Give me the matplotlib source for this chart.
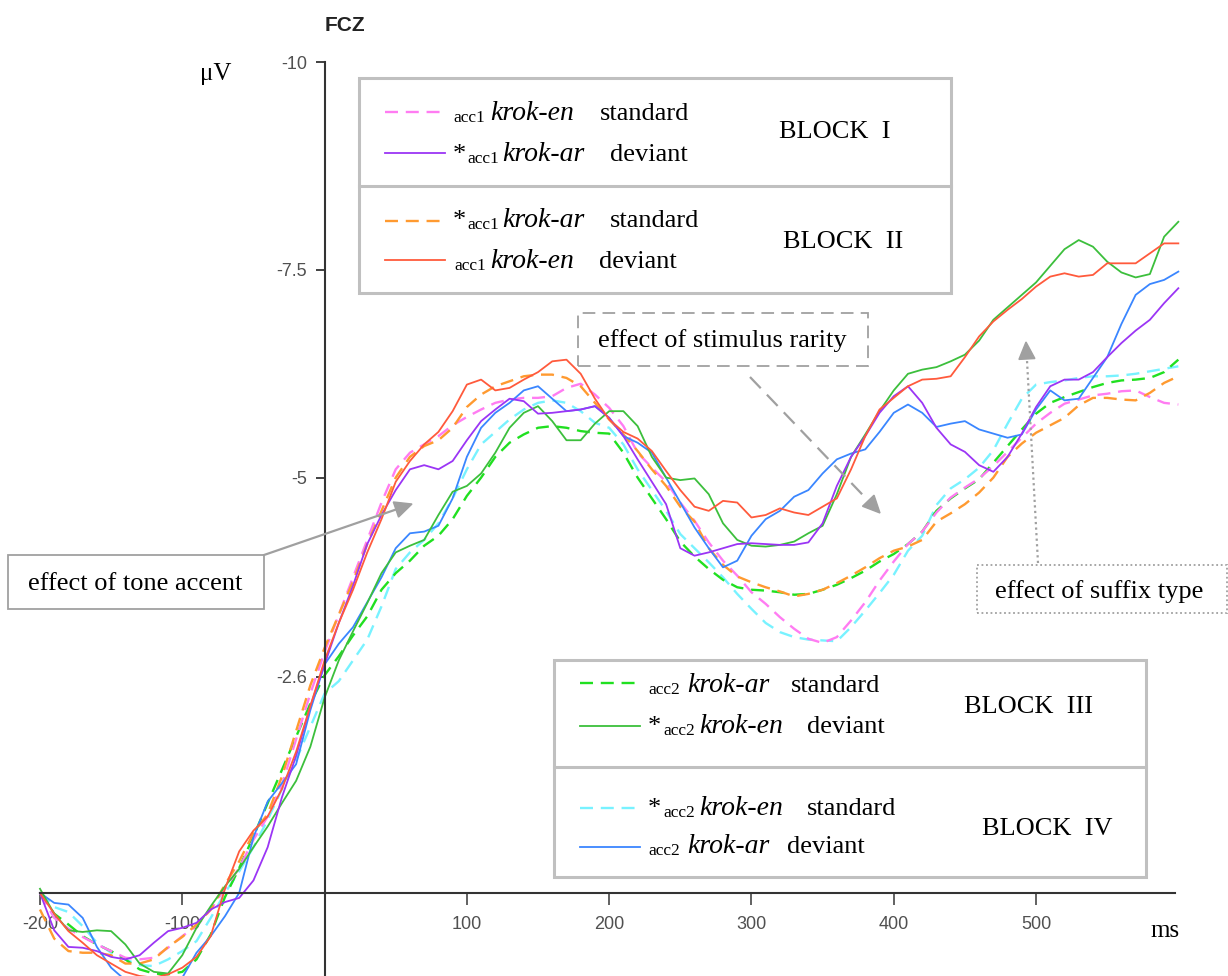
import numpy as np
import matplotlib
matplotlib.use('Agg')
import matplotlib.pyplot as plt
from matplotlib.patches import Rectangle, Polygon
from matplotlib.lines import Line2D

plt.rcParams['font.family'] = ['Liberation Sans', 'DejaVu Sans']
plt.rcParams['lines.solid_joinstyle'] = 'round'
plt.rcParams['lines.dash_joinstyle'] = 'round'

W, H = 1228, 976

# sampling grid, ms
ms = np.arange(-200, 601, 10)

# amplitudes in microvolt (negative plotted up)
block1_std = [0, 0.3, 0.43, 0.53, 0.62, 0.7, 0.78, 0.8, 0.78, 0.66, 0.52, 0.4, 0.2, -0.05, -0.3, -0.64, -0.92, -1.3, -1.85, -2.4, -2.9,
              -3.35, -3.8, -4.25, -4.7, -5.1, -5.3, -5.4, -5.5, -5.63, -5.73, -5.82, -5.9, -5.94, -5.96, -5.96, -5.98, -6.08, -6.13, -6.0, -5.84,
              -5.62, -5.3, -5.12, -4.95, -4.7, -4.48, -4.22, -4.0, -3.82, -3.62, -3.48, -3.32, -3.18, -3.06, -3.01, -3.08, -3.28, -3.5, -3.76, -3.99,
              -4.2, -4.35, -4.58, -4.76, -4.88, -4.99, -5.14, -5.31, -5.48, -5.65, -5.78, -5.89, -5.94, -5.99, -6.01, -6.04, -6.05, -5.97, -5.9, -5.88]
block1_dev = [0, 0.45, 0.65, 0.66, 0.7, 0.77, 0.8, 0.75, 0.6, 0.46, 0.42, 0.36, 0.2, 0.11, 0.06, -0.15, -0.55, -1.15, -1.65, -2.25, -2.75,
              -3.25, -3.7, -4.2, -4.55, -4.85, -5.1, -5.15, -5.1, -5.2, -5.45, -5.68, -5.82, -5.95, -5.92, -5.77, -5.78, -5.8, -5.82, -5.86, -5.72,
              -5.5, -5.22, -4.95, -4.68, -4.15, -4.06, -4.1, -4.15, -4.2, -4.21, -4.2, -4.19, -4.19, -4.22, -4.45, -4.9, -5.25, -5.5, -5.78, -5.98,
              -6.1, -5.9, -5.6, -5.4, -5.31, -5.15, -5.07, -5.25, -5.53, -5.85, -6.1, -6.18, -6.18, -6.27, -6.45, -6.62, -6.77, -6.9, -7.1, -7.28]
block2_std = [0.2, 0.55, 0.7, 0.72, 0.72, 0.75, 0.85, 0.85, 0.8, 0.65, 0.53, 0.38, 0.2, -0.1, -0.38, -0.72, -0.95, -1.4, -1.95, -2.5, -2.95,
              -3.35, -3.75, -4.2, -4.6, -5.0, -5.25, -5.38, -5.45, -5.6, -5.85, -6.0, -6.1, -6.16, -6.22, -6.24, -6.24, -6.2, -6.1, -5.9, -5.7,
              -5.52, -5.32, -5.1, -4.9, -4.65, -4.47, -4.15, -3.95, -3.81, -3.74, -3.68, -3.63, -3.57, -3.6, -3.65, -3.73, -3.82, -3.92, -4.03, -4.12,
              -4.17, -4.25, -4.47, -4.57, -4.68, -4.82, -5.0, -5.25, -5.41, -5.54, -5.63, -5.72, -5.87, -5.96, -5.96, -5.94, -5.93, -6.02, -6.14, -6.22]
block2_dev = [0, 0.25, 0.46, 0.6, 0.75, 0.85, 0.95, 1.0, 1.02, 0.98, 0.9, 0.77, 0.52, -0.05, -0.5, -0.75, -0.92, -1.25, -1.7, -2.25, -2.8,
              -3.25, -3.65, -4.1, -4.5, -4.95, -5.2, -5.4, -5.55, -5.8, -6.12, -6.18, -6.05, -6.08, -6.18, -6.27, -6.4, -6.42, -6.25, -5.95, -5.7,
              -5.55, -5.47, -5.32, -5.08, -4.85, -4.65, -4.6, -4.72, -4.7, -4.52, -4.55, -4.63, -4.58, -4.55, -4.65, -4.75, -5.1, -5.5, -5.82, -5.96,
              -6.1, -6.18, -6.19, -6.22, -6.45, -6.7, -6.88, -7.02, -7.15, -7.3, -7.42, -7.46, -7.42, -7.44, -7.58, -7.58, -7.58, -7.7, -7.82, -7.82]
block3_std = [0, 0.25, 0.38, 0.52, 0.62, 0.7, 0.8, 0.92, 0.97, 0.98, 0.95, 0.8, 0.5, 0.05, -0.3, -0.68, -1.08, -1.48, -1.88, -2.28, -2.62,
              -2.85, -3.1, -3.33, -3.65, -3.85, -4.0, -4.18, -4.3, -4.5, -4.78, -5.0, -5.25, -5.42, -5.52, -5.6, -5.62, -5.6, -5.56, -5.54, -5.53,
              -5.3, -5.0, -4.75, -4.5, -4.23, -4.05, -3.9, -3.77, -3.68, -3.65, -3.64, -3.62, -3.59, -3.6, -3.65, -3.71, -3.79, -3.88, -3.99, -4.08,
              -4.2, -4.35, -4.6, -4.75, -4.87, -4.98, -5.18, -5.38, -5.58, -5.77, -5.9, -5.97, -6.03, -6.09, -6.14, -6.17, -6.18, -6.2, -6.27, -6.42]
block3_dev = [-0.05, 0.25, 0.45, 0.47, 0.45, 0.46, 0.62, 0.85, 0.95, 0.97, 0.75, 0.42, 0.16, -0.08, -0.29, -0.55, -0.8, -1.08, -1.35, -1.76, -2.35,
              -2.8, -3.15, -3.49, -3.85, -4.1, -4.18, -4.25, -4.55, -4.83, -4.9, -5.05, -5.3, -5.6, -5.78, -5.86, -5.68, -5.45, -5.45, -5.65, -5.8,
              -5.8, -5.62, -5.25, -5.0, -4.97, -4.99, -4.8, -4.45, -4.25, -4.18, -4.17, -4.19, -4.23, -4.33, -4.42, -4.8, -5.25, -5.52, -5.8, -6.05,
              -6.25, -6.3, -6.33, -6.4, -6.48, -6.65, -6.9, -7.05, -7.2, -7.35, -7.55, -7.75, -7.86, -7.78, -7.6, -7.47, -7.41, -7.45, -7.9, -8.08]
block4_std = [0, 0.17, 0.23, 0.4, 0.6, 0.72, 0.8, 0.87, 0.88, 0.8, 0.7, 0.58, 0.3, 0.0, -0.26, -0.55, -0.88, -1.25, -1.6, -2.0, -2.4,
              -2.55, -2.8, -3.05, -3.45, -3.9, -4.1, -4.25, -4.45, -4.75, -5.1, -5.4, -5.55, -5.7, -5.82, -5.9, -5.93, -5.9, -5.8, -5.66, -5.6,
              -5.4, -5.1, -4.85, -4.6, -4.32, -4.15, -3.98, -3.8, -3.6, -3.42, -3.25, -3.14, -3.08, -3.05, -3.04, -3.03, -3.2, -3.4, -3.61, -3.83,
              -4.12, -4.3, -4.67, -4.87, -4.98, -5.12, -5.33, -5.65, -5.95, -6.12, -6.15, -6.17, -6.2, -6.22, -6.22, -6.23, -6.25, -6.28, -6.31, -6.34]
block4_dev = [0, 0.12, 0.14, 0.3, 0.65, 0.9, 1.05, 1.1, 1.1, 1.1, 1.02, 0.72, 0.52, 0.28, 0.0, -0.67, -1.1, -1.32, -1.55, -2.2, -2.75,
              -3.0, -3.2, -3.5, -3.8, -4.15, -4.33, -4.35, -4.42, -4.75, -5.25, -5.6, -5.78, -5.9, -6.05, -6.1, -5.95, -5.8, -5.82, -5.86, -5.72,
              -5.5, -5.42, -5.3, -5.0, -4.7, -4.4, -4.15, -3.92, -4.0, -4.3, -4.5, -4.6, -4.77, -4.85, -5.05, -5.22, -5.29, -5.34, -5.55, -5.78,
              -5.88, -5.78, -5.61, -5.65, -5.68, -5.58, -5.53, -5.48, -5.52, -5.82, -6.05, -5.93, -5.95, -6.2, -6.45, -6.85, -7.2, -7.33, -7.38, -7.48]

y_ticks = [-10, -7.5, -5, -2.6]
y_tick_labels = ['-10', '-7.5', '-5', '-2.6']
x_ticks = [-200, -100, 100, 200, 300, 400, 500]
x_tick_labels = ['-200', '-100', '100', '200', '300', '400', '500']

DASH = (5.5, 3.3)
styles = {
    'b1s': dict(color='#ff7cf2', lw=1.7, dashes=DASH),
    'b1d': dict(color='#9b35f5', lw=1.3),
    'b2s': dict(color='#ff9a30', lw=1.7, dashes=DASH),
    'b2d': dict(color='#ff5a3c', lw=1.3),
    'b3s': dict(color='#20e020', lw=1.7, dashes=DASH),
    'b3d': dict(color='#3cbf3c', lw=1.3),
    'b4s': dict(color='#78f2ff', lw=1.7, dashes=DASH),
    'b4d': dict(color='#3a86ff', lw=1.3),
}
series = {'b1s': block1_std, 'b1d': block1_dev, 'b2s': block2_std, 'b2d': block2_dev,
          'b3s': block3_std, 'b3d': block3_dev, 'b4s': block4_std, 'b4d': block4_dev}

fig = plt.figure(figsize=(W / 100, H / 100), dpi=100)
ax = fig.add_axes([0, 0, 1, 1])
ax.set_xlim(-228.1, 634.9)
ax.set_ylim(1.0, -10.75)
ax.patch.set_alpha(0)

for k in ['b4s', 'b3s', 'b1s', 'b2s', 'b4d', 'b3d', 'b1d', 'b2d']:
    ax.plot(ms, series[k], **styles[k])

# axes through zero
for s in ['top', 'right']:
    ax.spines[s].set_visible(False)
ax.spines['left'].set_position(('data', 0))
ax.spines['left'].set_bounds(-10, 1.0)
ax.spines['bottom'].set_position(('data', 0))
ax.spines['bottom'].set_bounds(-200, 598)
for s in ['left', 'bottom']:
    ax.spines[s].set_color('#333333')
    ax.spines[s].set_linewidth(1.5)
ax.set_xticks(x_ticks)
ax.set_xticklabels(x_tick_labels)
ax.set_yticks(y_ticks)
ax.set_yticklabels(y_tick_labels)
ax.tick_params(axis='x', direction='out', length=8.5, width=1.3, color='#555555',
               pad=8, labelsize=13, labelcolor='#505050')
ax.tick_params(axis='y', direction='out', length=6.5, width=1.3, color='#333333',
               pad=6, labelsize=13, labelcolor='#505050')


def fx(px):
    return px / W


def fy(py):
    return 1 - py / H


def put(px, py, s, size=19, style='normal', family='Liberation Serif', **kw):
    fig.text(fx(px), fy(py), s, fontsize=size, style=style, family=family,
             ha=kw.pop('ha', 'left'), va=kw.pop('va', 'baseline'), **kw)


def box(x0, y0, x1, y1, ec, lw, ls='-'):
    fig.add_artist(Rectangle((fx(x0), fy(y1)), fx(x1) - fx(x0), fy(y0) - fy(y1),
                             transform=fig.transFigure, facecolor='white',
                             edgecolor=ec, lw=lw, linestyle=ls, zorder=3))


def hline(x0, x1, y, **kw):
    fig.add_artist(Line2D([fx(x0), fx(x1)], [fy(y), fy(y)], transform=fig.transFigure,
                          zorder=4, **kw))


def arrow(tail, tip, ls, color='#a0a0a0'):
    t = np.array(tail, float)
    p = np.array(tip, float)
    d = (p - t) / np.hypot(*(p - t))
    n = np.array([-d[1], d[0]])
    base = p - d * 17
    fig.add_artist(Line2D([fx(t[0]), fx(base[0])], [fy(t[1]), fy(base[1])],
                          transform=fig.transFigure, color=color, lw=1.6, linestyle=ls, zorder=4))
    pts = [p, base + n * 8, base - n * 8]
    fig.add_artist(Polygon([(fx(a), fy(b)) for a, b in pts], closed=True,
                           transform=fig.transFigure, facecolor=color, edgecolor=color, zorder=4))


# titles / units
put(325, 31, 'FCZ', size=15, family='Liberation Sans', weight='bold', color='#222222')
put(200, 80, 'μV', size=18)
put(1150, 937, 'ms', size=18)

# legend boxes
legend_groups = [
    dict(rect=(359, 78, 951, 293), div=186, lx=(385, 445), rows=[
        ('b1s', 112, 120, [('acc1', 453, 's'), ('krok-en', 490, 'i'), ('standard', 600, 'n')]),
        ('b1d', 153, 161, [('*', 453, 'n'), ('acc1', 467, 's'), ('krok-ar', 502, 'i'), ('deviant', 610, 'n')]),
        ('b2s', 221, 227, [('*', 453, 'n'), ('acc1', 467, 's'), ('krok-ar', 502, 'i'), ('standard', 610, 'n')]),
        ('b2d', 260, 268, [('acc1', 454, 's'), ('krok-en', 490, 'i'), ('deviant', 599, 'n')]),
    ], blocks=[('BLOCK  I', 779, 138), ('BLOCK  II', 783, 248)]),
    dict(rect=(554, 660, 1146, 877), div=767, lx=(580, 640), rows=[
        ('b3s', 683, 692, [('acc2', 648, 's'), ('krok-ar', 687, 'i'), ('standard', 791, 'n')]),
        ('b3d', 726, 733, [('*', 648, 'n'), ('acc2', 663, 's'), ('krok-en', 699, 'i'), ('deviant', 807, 'n')]),
        ('b4s', 808, 815, [('*', 648, 'n'), ('acc2', 663, 's'), ('krok-en', 699, 'i'), ('standard', 807, 'n')]),
        ('b4d', 847, 853, [('acc2', 648, 's'), ('krok-ar', 687, 'i'), ('deviant', 787, 'n')]),
    ], blocks=[('BLOCK  III', 964, 713), ('BLOCK  IV', 982, 835)]),
]

for g in legend_groups:
    x0, y0, x1, y1 = g['rect']
    box(x0, y0, x1, y1, '#c0c0c0', 2.2)
    hline(x0, x1, g['div'], color='#c0c0c0', lw=2.2)
    for key, ly, by, parts in g['rows']:
        st = dict(styles[key])
        hline(g['lx'][0], g['lx'][1], ly, **st)
        for txt, px, kind in parts:
            if kind == 's':
                put(px, by + 2, txt, size=12.5, zorder=5)
            elif kind == 'i':
                put(px, by, txt, size=20, style='italic', zorder=5)
            else:
                put(px, by, txt, size=19, zorder=5)
    for txt, px, by in g['blocks']:
        put(px, by, txt, size=19, zorder=5)

# annotations
box(8, 555, 264, 609, '#a0a0a0', 1.3)
put(28, 590, 'effect of tone accent', zorder=5)
arrow((264, 555), (412, 504), '-')

box(578, 313, 868, 366, '#a0a0a0', 1.3, ls=(0, (7, 4)))
put(598, 347, 'effect of stimulus rarity', zorder=5)
arrow((750, 377), (880, 513), (0, (7, 4)))

box(977, 565, 1227, 613, '#a0a0a0', 1.3, ls=(0, (1, 1.5)))
put(995, 598, 'effect of suffix type', zorder=5)
arrow((1038, 563), (1026, 342), (0, (1, 1.5)))

fig.savefig('out.png', dpi=100)
